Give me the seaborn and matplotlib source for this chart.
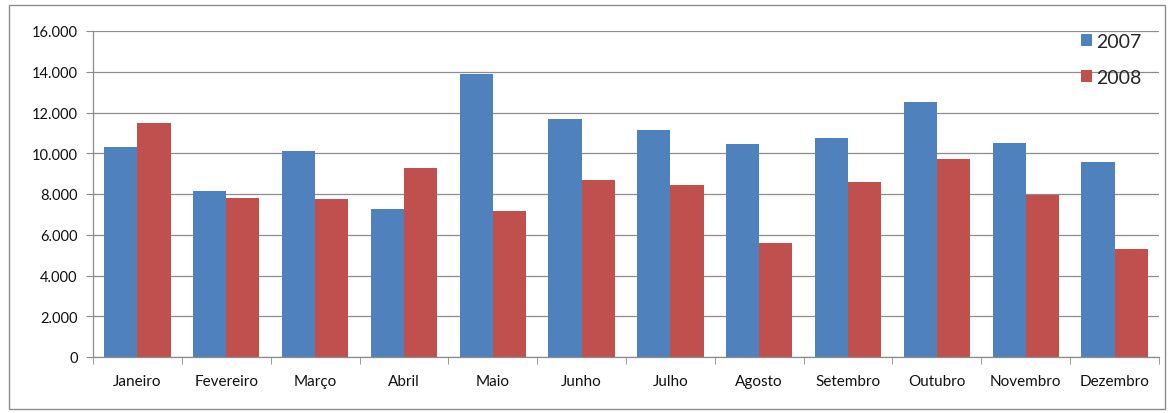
import pandas as pd
import seaborn as sns
import matplotlib.pyplot as plt
from matplotlib.patches import Rectangle
from matplotlib.ticker import FuncFormatter, FixedLocator

# dados
meses = ['Janeiro', 'Fevereiro', 'Março', 'Abril', 'Maio', 'Junho',
         'Julho', 'Agosto', 'Setembro', 'Outubro', 'Novembro', 'Dezembro']
valores_2007 = [10300, 8150, 10100, 7250, 13900, 11700,
                11150, 10450, 10750, 12500, 10500, 9550]
valores_2008 = [11500, 7800, 7750, 9300, 7150, 8700,
                8450, 5600, 8600, 9700, 7950, 5300]
anos = ['2007', '2008']
cores = ['#4F81BD', '#C0504D']

df = pd.DataFrame({
    'mes': meses * 2,
    'ano': [anos[0]] * len(meses) + [anos[1]] * len(meses),
    'valor': valores_2007 + valores_2008,
})

sns.set_style('white')
plt.rcParams['font.family'] = ['Lato', 'DejaVu Sans']

fig = plt.figure(figsize=(11.68, 4.14), dpi=100)
ax = fig.add_axes([93 / 1168, 1 - 358 / 414, (1159 - 93) / 1168, (358 - 32) / 414])

sns.barplot(data=df, x='mes', y='valor', hue='ano', palette=cores,
            width=0.745, saturation=1, linewidth=0, ax=ax, legend=True)

ax.set_ylim(0, 16000)
ax.set_xlim(-0.5, len(meses) - 0.5)
ax.set_yticks(range(0, 16001, 2000))
ax.yaxis.set_major_formatter(FuncFormatter(lambda v, p: f'{int(v):,}'.replace(',', '.')))
ax.grid(axis='y', color='#8c8c8c', linewidth=0.9)
ax.set_axisbelow(True)

# ticks entre categorias
ax.xaxis.set_minor_locator(FixedLocator([i - 0.5 for i in range(len(meses) + 1)]))
ax.tick_params(axis='x', which='major', length=0, pad=12, labelsize=11, labelcolor='#111111')
ax.tick_params(axis='x', which='minor', length=5, direction='out', color='#8c8c8c', bottom=True)
ax.tick_params(axis='y', length=5, direction='out', color='#8c8c8c', left=True,
               labelsize=10.5, labelcolor='#111111', pad=6)

for s in ['top', 'right']:
    ax.spines[s].set_visible(False)
for s in ['left', 'bottom']:
    ax.spines[s].set_color('#8c8c8c')
    ax.spines[s].set_linewidth(0.9)

ax.set_xlabel('')
ax.set_ylabel('')

leg = ax.legend(loc='upper right', bbox_to_anchor=(0.996, 1.035), frameon=False,
                fontsize=14, handlelength=0.55, handleheight=0.55,
                handletextpad=0.2, labelspacing=0.95, borderaxespad=0.3)

# moldura do gráfico
fig.patches.append(Rectangle((9 / 1168, 4 / 414), 1156 / 1168, 404 / 414,
                             transform=fig.transFigure, fill=False,
                             edgecolor='#8c8c8c', linewidth=1))

plt.savefig('out.png', dpi=100)
